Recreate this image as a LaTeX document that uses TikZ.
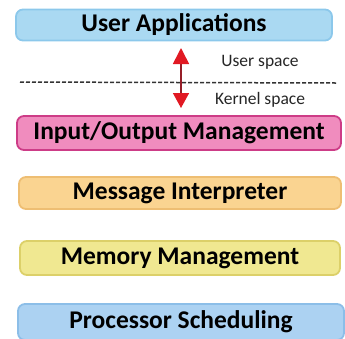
\documentclass[tikz,border=0pt]{standalone}
\usepackage{fontspec}
\setmainfont{Carlito}
\usetikzlibrary{arrows.meta}

\definecolor{appblue}{RGB}{170,217,242}
\definecolor{appblueedge}{RGB}{140,200,235}
\definecolor{iopink}{RGB}{240,140,190}
\definecolor{iopinkedge}{RGB}{205,60,135}
\definecolor{msgorange}{RGB}{250,212,145}
\definecolor{msgorangeedge}{RGB}{238,190,115}
\definecolor{memyellow}{RGB}{240,232,145}
\definecolor{memyellowedge}{RGB}{220,208,105}
\definecolor{procblue}{RGB}{172,210,242}
\definecolor{procblueedge}{RGB}{140,190,232}
\definecolor{spacered}{RGB}{225,25,35}
\definecolor{shaftred}{RGB}{150,30,40}

\begin{document}
\begin{tikzpicture}[x=1pt,y=-1pt,
    layer/.style={rounded corners=7pt, line width=1.8pt, minimum height=33pt,
        font=\bfseries\fontsize{25.5}{25.5}\selectfont, text=black},
    spacelabel/.style={font=\fontsize{17.5}{17.5}\selectfont, text=black!85}]
    \useasboundingbox (0,0) rectangle (345,338);
    % layers, top to bottom
    \node[layer, draw=appblueedge, fill=appblue, minimum width=316pt, minimum height=31pt] (apps) at (174,25) {User Applications};
    \node[layer, draw=iopinkedge, fill=iopink, minimum width=324pt, minimum height=34pt] (io) at (179,133) {Input/Output Management};
    \node[layer, draw=msgorangeedge, fill=msgorange, minimum width=322pt, minimum height=32pt] (msg) at (180,193) {Message Interpreter};
    \node[layer, draw=memyellowedge, fill=memyellow, minimum width=320pt, minimum height=34pt] (mem) at (180,258) {Memory Management};
    \node[layer, draw=procblueedge, fill=procblue, minimum width=326pt, minimum height=36pt] (proc) at (181,322) {Processor Scheduling};
    % user / kernel boundary
    \coordinate (lineL) at (20,82);
    \coordinate (lineR) at (336,83);
    \draw[line width=1.5pt, black!80, dash pattern=on 4pt off 2pt] (lineL) -- (lineR);
    \coordinate (arrTop) at (181,48);
    \coordinate (arrBot) at (181,108);
    \draw[shaftred, line width=1.6pt, {Triangle[length=16pt,width=16pt,color=spacered]}-{Triangle[length=15pt,width=16pt,color=spacered]}] (arrTop) -- (arrBot);
    \node[spacelabel] (userspace) at (260,62) {User space};
    \node[spacelabel] (kernelspace) at (260,100) {Kernel space};
\end{tikzpicture}
\end{document}
